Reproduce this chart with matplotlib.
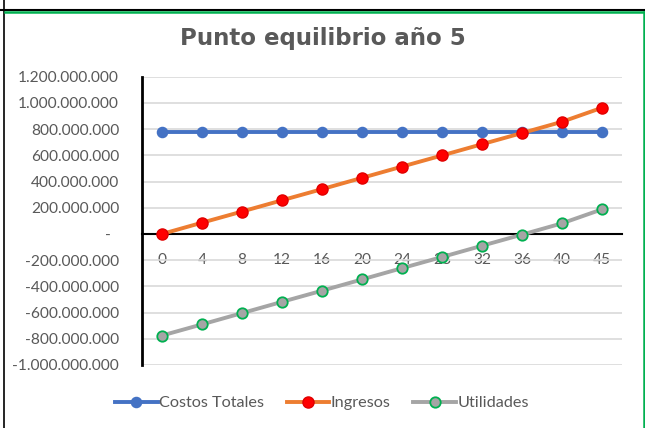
import matplotlib
matplotlib.use("Agg")
import matplotlib.pyplot as plt
from matplotlib.lines import Line2D
from matplotlib.ticker import FixedLocator, FuncFormatter

plt.rcParams['font.family'] = ['Lato', 'DejaVu Sans']

categories = ["0", "4", "8", "12", "16", "20", "24", "28", "32", "36", "40", "45"]
costos_totales = [775e6, 775e6, 775e6, 775e6, 775e6, 775e6, 775e6, 775e6, 775e6, 775e6, 775e6, 775e6]
ingresos = [0, 86e6, 171e6, 257e6, 342e6, 428e6, 514e6, 599e6, 685e6, 770e6, 856e6, 963e6]
utilidades = [-775e6, -690e6, -604e6, -518e6, -433e6, -347e6, -261e6, -176e6, -90e6, -5e6, 81e6, 188e6]
series_names = ["Costos Totales", "Ingresos", "Utilidades"]
title = "Punto equilibrio año 5"

W, H = 645, 428
fig = plt.figure(figsize=(W / 100, H / 100), dpi=100)
fig.patch.set_facecolor("white")

def fx(px):
    return px / W

def fy(py):
    return 1 - py / H

# outer frame lines
fig.add_artist(Line2D([fx(0), fx(W)], [fy(9.5), fy(9.5)], color="black", lw=1.5))
fig.add_artist(Line2D([fx(4), fx(4)], [fy(0), fy(H)], color="black", lw=1.2))
fig.add_artist(Line2D([fx(5), fx(643.5)], [fy(11.5), fy(11.5)], color="#00B050", lw=1.8))
fig.add_artist(Line2D([fx(643.5), fx(643.5)], [fy(11.5), fy(H)], color="#00B050", lw=1.8))

left, right, top, bottom = 142, 622, 76.7, 365
ax = fig.add_axes([fx(left), fy(bottom), fx(right - left), (bottom - top) / H])
x = list(range(len(categories)))

ax.plot(x, costos_totales, color="#4472C4", lw=2.8, marker="o", ms=7.3,
        mfc="#4472C4", mec="#4472C4", zorder=3, label=series_names[0])
ax.plot(x, ingresos, color="#ED7D31", lw=2.8, marker="o", ms=8,
        mfc="#FF0000", mec="#E00000", zorder=4, label=series_names[1])
ax.plot(x, utilidades, color="#A5A5A5", lw=2.8, marker="o", ms=7.5,
        mfc="#A5A5A5", mec="#00B050", mew=1.3, zorder=3, label=series_names[2])

ax.set_xlim(-0.5, len(categories) - 0.5)
ax.set_ylim(-1.0e9, 1.2e9)
ax.yaxis.set_major_locator(FixedLocator([i * 2e8 for i in range(-5, 7)]))

def yfmt(v, pos):
    if abs(v) < 1:
        return "-  "
    return f"{v:,.0f}".replace(",", ".")

ax.yaxis.set_major_formatter(FuncFormatter(yfmt))
ax.set_xticks(x)
ax.set_xticklabels(categories)
ax.tick_params(axis="both", length=0, labelsize=11.2, labelcolor="#595959")
ax.tick_params(axis="y", pad=16.5)
ax.tick_params(axis="x", pad=14)

ax.grid(axis="y", color="#D9D9D9", lw=1.2)
ax.set_axisbelow(True)
for s in ["top", "right"]:
    ax.spines[s].set_visible(False)
ax.spines["bottom"].set_position(("data", 0))
ax.spines["bottom"].set_color("black")
ax.spines["bottom"].set_linewidth(1.5)
ax.spines["left"].set_color("black")
ax.spines["left"].set_linewidth(2)
ax.set_facecolor("none")

fig.text(fx(323), fy(38), title, ha="center", va="center", fontsize=16.5,
         fontweight="bold", color="#595959", family=["DejaVu Sans"])

handles, labels = ax.get_legend_handles_labels()
leg = fig.legend(handles, labels, loc="center", bbox_to_anchor=(fx(322), fy(403)),
                 ncol=3, frameon=False, fontsize=11.7, handlelength=2.6,
                 handletextpad=0.1, columnspacing=1.4)
for t in leg.get_texts():
    t.set_color("#595959")

fig.savefig("out.png", dpi=100)
